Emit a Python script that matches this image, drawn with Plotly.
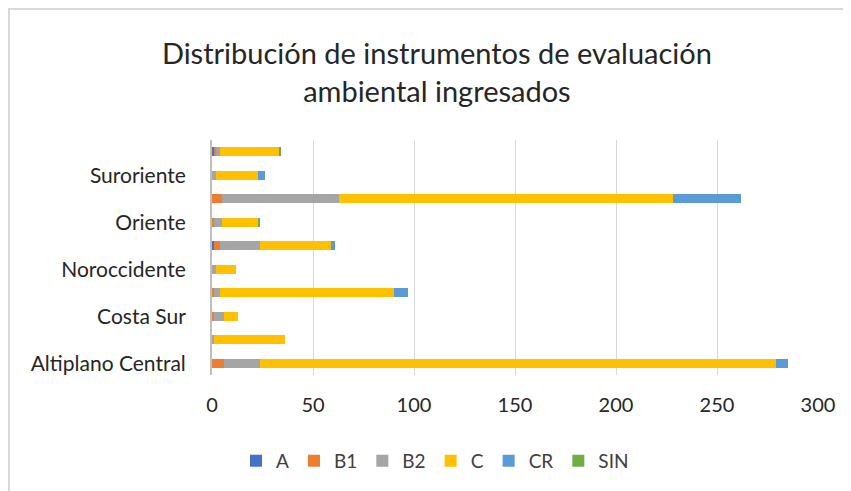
import plotly.graph_objects as go

# regiones, de abajo hacia arriba (como en el grafico original)
regiones = ["Altiplano Central", "Boca Costa", "Costa Sur", "Metropolitana", "Noroccidente",
            "Nororiente", "Oriente", "Petén", "Suroriente", "Verapaces"]

val_A = [0, 0, 0, 0, 0, 1, 0, 0, 0, 1]
val_B1 = [6, 0, 1, 1, 0, 3, 1, 5, 0, 1]
val_B2 = [18, 1, 5, 3, 2, 20, 4, 58, 2, 2]
val_C = [255, 35, 7, 86, 10, 35, 18, 165, 21, 29]
val_CR = [6, 0, 0, 7, 0, 2, 0, 34, 3, 0]
val_SIN = [0, 0, 0, 0, 0, 0, 1, 0, 0, 1]

x_ticks = [0, 50, 100, 150, 200, 250, 300]

series = [
    ("A", val_A, "#4472C4"),
    ("B1", val_B1, "#ED7D31"),
    ("B2", val_B2, "#A5A5A5"),
    ("C", val_C, "#FFC000"),
    ("CR", val_CR, "#5B9BD5"),
    ("SIN", val_SIN, "#70AD47"),
]

fig = go.Figure()
for name, vals, color in series:
    fig.add_trace(go.Bar(y=regiones, x=vals, name=name, orientation="h",
                         marker=dict(color=color, line=dict(width=0))))

# solo se ven etiquetas alternas en el original
shown = regiones[0::2]

# la pagina tiene 8px de margen en el body, se compensa aqui
fig.update_layout(
    width=851, height=491,
    margin=dict(l=204, r=41, t=132, b=124, autoexpand=False),
    barmode="stack", bargap=0.6,
    paper_bgcolor="white", plot_bgcolor="white",
    font=dict(family="Lato, 'Open Sans', sans-serif", color="#404040", size=20),
    title=dict(text="Distribución de instrumentos de evaluación<br>ambiental ingresados",
               x=0.504, xanchor="center", y=0.885, yanchor="middle",
               font=dict(size=29, color="#262626")),
    legend=dict(orientation="h", x=0.368, xanchor="center", y=-0.365, yanchor="middle",
                font=dict(size=19, color="#404040"), traceorder="normal",
                itemwidth=30),
    showlegend=True,
)

fig.update_xaxes(range=[0, 300], tickvals=x_ticks, showgrid=True, gridcolor="#d9d9d9",
                 gridwidth=1, zeroline=False, showline=False, ticklabelstandoff=16,
                 automargin=False, tickfont=dict(size=20, color="#262626"))
fig.update_yaxes(type="category", categoryorder="array", categoryarray=regiones,
                 range=[-0.5, 9.5], tickvals=shown, ticktext=shown,
                 showgrid=False, showline=True, linecolor="#bfbfbf", linewidth=2,
                 ticklabelstandoff=20, automargin=False,
                 tickfont=dict(size=21, color="#262626"))

# marco claro del grafico
fig.add_shape(type="rect", xref="paper", yref="paper",
              x0=-0.335, x1=1.2, y0=-0.7, y1=1.557,
              line=dict(color="#d9d9d9", width=2), layer="below")

fig.write_html("out.html")
